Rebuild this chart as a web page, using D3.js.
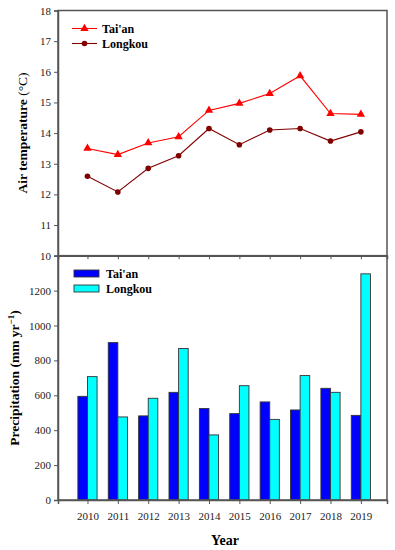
<!DOCTYPE html>
<html>
<head>
<meta charset="utf-8">
<script src="https://cdn.jsdelivr.net/npm/d3@7"></script>
<style>
	body { margin: 0; background: #fff; }
	svg { font-family: "Liberation Serif", "Times New Roman", serif; }
</style>
</head>
<body>
<div id="chart"></div>
<script>
'use strict';

// Years along the bottom
var years = [2010, 2011, 2012, 2013, 2014, 2015, 2016, 2017, 2018, 2019];

// Mean air temperature (°C)
var temp_taian = [13.50, 13.30, 13.68, 13.88, 14.74, 14.97, 15.29, 15.87, 14.64, 14.61];
var temp_longkou = [12.59, 12.08, 12.85, 13.26, 14.15, 13.62, 14.10, 14.15, 13.74, 14.04];

// Annual precipitation (mm yr-1)
var prec_taian = [594, 902, 482, 617, 524, 495, 562, 516, 640, 485];
var prec_longkou = [707, 476, 583, 868, 373, 655, 462, 713, 617, 1296];

var temp_ticks = [10, 11, 12, 13, 14, 15, 16, 17, 18];
var prec_ticks = [0, 200, 400, 600, 800, 1000, 1200];

var series_names = ["Tai'an", 'Longkou'];
var line_colours = ['#ff0000', '#800000'];
var bar_colours = ['#0000ff', '#00ffff'];
var axis_col = '#555';

var width = 395, height = 550;
var left = 58, right = 387;

var svg = d3.select('#chart').append('svg')
	.attr('width', width)
	.attr('height', height);

var x_scale = d3.scaleLinear()
	.domain([2009.03, 2019.86])
	.range([left, right]);

var y_temp = d3.scaleLinear().domain([10, 18]).range([255.7, 10.5]);
var y_prec = d3.scaleLinear().domain([0, 1400]).range([500, 255.7]);

var bar_band = d3.scaleBand()
	.domain(series_names)
	.range([-9.6, 9.6]);


//===============================================================
// Top panel: air temperature
//===============================================================

var top_panel = svg.append('g');

var temp_series = [temp_taian, temp_longkou];
var line_gen = d3.line()
	.x(function(d, i) { return x_scale(years[i]); })
	.y(function(d) { return y_temp(d); });

temp_series.forEach(function(vals, s) {
	top_panel.append('path')
		.datum(vals)
		.attr('d', line_gen)
		.attr('fill', 'none')
		.attr('stroke', line_colours[s])
		.attr('stroke-width', 1.1);
});

var tri = d3.symbol().type(d3.symbolTriangle).size(30);

top_panel.selectAll('path.tri')
	.data(temp_taian)
	.enter().append('path')
	.attr('class', 'tri')
	.attr('d', tri)
	.attr('transform', function(d, i) { return 'translate(' + x_scale(years[i]) + ',' + y_temp(d) + ')'; })
	.attr('fill', line_colours[0]);

top_panel.selectAll('circle.dot')
	.data(temp_longkou)
	.enter().append('circle')
	.attr('class', 'dot')
	.attr('cx', function(d, i) { return x_scale(years[i]); })
	.attr('cy', function(d) { return y_temp(d); })
	.attr('r', 2.8)
	.attr('fill', line_colours[1]);

// axes
top_panel.append('g')
	.attr('class', 'axis')
	.attr('transform', 'translate(' + left + ',0)')
	.call(d3.axisLeft(y_temp).tickValues(temp_ticks).tickSize(4).tickPadding(3).tickFormat(d3.format('d')));

top_panel.append('g')
	.attr('class', 'axis')
	.attr('transform', 'translate(0,' + y_temp(10) + ')')
	.call(d3.axisBottom(x_scale).tickValues(years).tickSize(3.5).tickFormat(''));

top_panel.append('rect')
	.attr('x', left)
	.attr('y', y_temp(18))
	.attr('width', right - left)
	.attr('height', y_temp(10) - y_temp(18))
	.attr('fill', 'none')
	.attr('stroke', axis_col)
	.attr('stroke-width', 1.5);

// legend
var temp_legend = top_panel.selectAll('g.tleg')
	.data(series_names)
	.enter().append('g')
	.attr('class', 'tleg')
	.attr('transform', function(d, i) { return 'translate(72,' + (28.5 + i * 15) + ')'; });

temp_legend.append('line')
	.attr('x1', 0).attr('x2', 25)
	.attr('stroke', function(d, i) { return line_colours[i]; })
	.attr('stroke-width', 1.1);

temp_legend.each(function(d, i) {
	var g = d3.select(this);
	if (i === 0) {
		g.append('path').attr('d', tri).attr('transform', 'translate(12.5,0)').attr('fill', line_colours[0]);
	} else {
		g.append('circle').attr('cx', 12.5).attr('r', 2.8).attr('fill', line_colours[1]);
	}
});

temp_legend.append('text')
	.attr('x', 30)
	.attr('dy', '0.35em')
	.attr('font-size', 12)
	.attr('font-weight', 'bold')
	.text(function(d) { return d; });

svg.append('text')
	.attr('transform', 'translate(27,' + 133 + ') rotate(-90)')
	.attr('text-anchor', 'middle')
	.attr('font-size', 13.5)
	.attr('font-weight', 'bold')
	.text('Air temperature ')
	.append('tspan')
	.attr('font-weight', 'normal')
	.text('(°C)');


//===============================================================
// Bottom panel: precipitation
//===============================================================

var bottom_panel = svg.append('g');
var prec_series = [prec_taian, prec_longkou];

prec_series.forEach(function(vals, s) {
	bottom_panel.selectAll('rect.bar' + s)
		.data(vals)
		.enter().append('rect')
		.attr('class', 'bar' + s)
		.attr('x', function(d, i) { return x_scale(years[i]) + bar_band(series_names[s]); })
		.attr('y', function(d) { return y_prec(d); })
		.attr('width', bar_band.bandwidth())
		.attr('height', function(d) { return y_prec(0) - y_prec(d); })
		.attr('fill', bar_colours[s])
		.attr('stroke', '#333')
		.attr('stroke-width', 0.9);
});

bottom_panel.append('g')
	.attr('class', 'axis')
	.attr('transform', 'translate(' + left + ',0)')
	.call(d3.axisLeft(y_prec).tickValues(prec_ticks).tickSize(4).tickPadding(3).tickFormat(d3.format('d')));

bottom_panel.append('g')
	.attr('class', 'axis')
	.attr('transform', 'translate(0,' + y_prec(0) + ')')
	.call(d3.axisBottom(x_scale).tickValues(years).tickSize(4).tickPadding(8).tickFormat(d3.format('d')));

bottom_panel.append('rect')
	.attr('x', left)
	.attr('y', y_prec(1400))
	.attr('width', right - left)
	.attr('height', y_prec(0) - y_prec(1400))
	.attr('fill', 'none')
	.attr('stroke', axis_col)
	.attr('stroke-width', 1.5);

// legend
var prec_legend = bottom_panel.selectAll('g.pleg')
	.data(series_names)
	.enter().append('g')
	.attr('class', 'pleg')
	.attr('transform', function(d, i) { return 'translate(74,' + (273.5 + i * 15) + ')'; });

prec_legend.append('rect')
	.attr('y', -3.5)
	.attr('width', 25)
	.attr('height', 7)
	.attr('fill', function(d, i) { return bar_colours[i]; })
	.attr('stroke', '#333')
	.attr('stroke-width', 0.9);

prec_legend.append('text')
	.attr('x', 32)
	.attr('dy', '0.35em')
	.attr('font-size', 12)
	.attr('font-weight', 'bold')
	.text(function(d) { return d; });

var prec_title = svg.append('text')
	.attr('transform', 'translate(19,378) rotate(-90)')
	.attr('text-anchor', 'middle')
	.attr('font-size', 13.5)
	.attr('font-weight', 'bold')
	.text('Precipitation (mm yr');
prec_title.append('tspan')
	.attr('dy', -5)
	.attr('font-size', 9)
	.text('\u22121');
prec_title.append('tspan')
	.attr('dy', 5)
	.text(')');

svg.append('text')
	.attr('x', 225)
	.attr('y', 545)
	.attr('text-anchor', 'middle')
	.attr('font-size', 14)
	.attr('font-weight', 'bold')
	.text('Year');

// style the axes: serif labels, grey lines
svg.selectAll('g.axis').attr('font-family', null).attr('font-size', 11);
svg.selectAll('.domain').attr('stroke', axis_col).attr('stroke-width', 1.5);
svg.selectAll('.tick line').attr('stroke', axis_col);
svg.selectAll('.tick text').attr('fill', '#222');
</script>
</body>
</html>
